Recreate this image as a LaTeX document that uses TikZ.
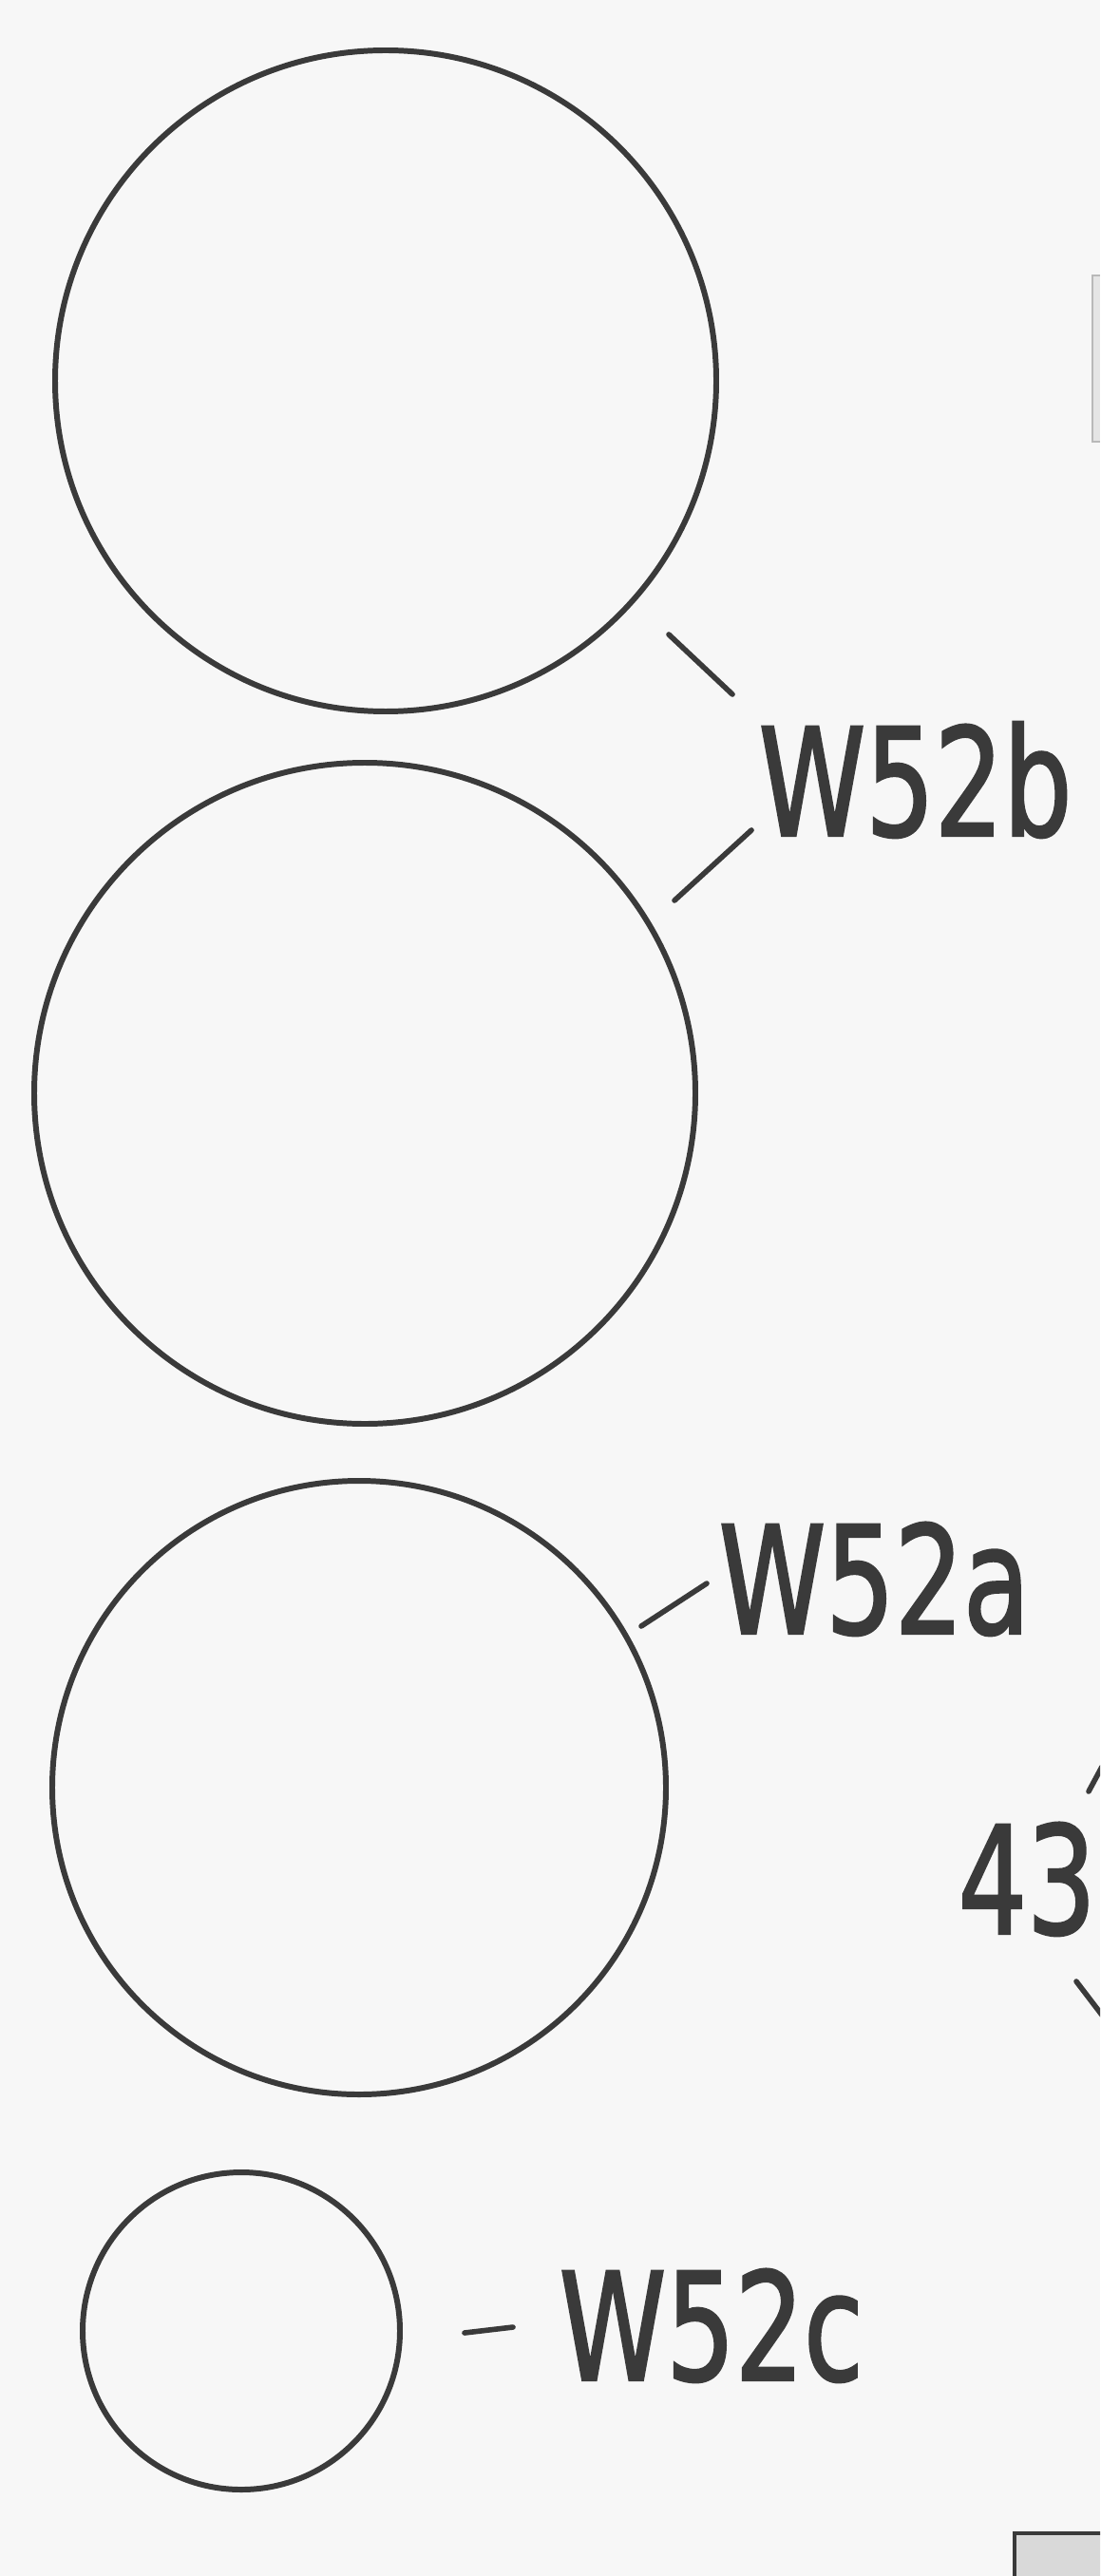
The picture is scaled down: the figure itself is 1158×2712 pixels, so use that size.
\documentclass[tikz,border=0pt]{standalone}
\usepackage{fontspec}
\newfontfamily\tagfont[FakeStretch=0.72, FakeBold=1.5]{DejaVu Sans}
\definecolor{ink}{HTML}{3A3A3A}
\definecolor{paper}{HTML}{F7F7F7}
\tikzset{
  ring/.style={circle, draw=ink, line width=1.7pt, inner sep=0pt},
  tag/.style={font=\tagfont\fontsize{45}{45}\selectfont, text=ink, inner sep=0pt, anchor=base west},
  leader/.style={draw=ink, line width=1.6pt, line cap=round},
}
\begin{document}
\begin{tikzpicture}[x=0.1mm, y=-0.1mm]
    \fill[paper] (0,0) rectangle (1158,2712);
    \useasboundingbox (0,0) rectangle (1158,2712);
    \clip (0,0) rectangle (1158,2712);
    % Rings, top to bottom
    \foreach \nm/\x/\y/\d in {ringBa/406/401/69.6, ringBb/384/1151/69.6, ringA/378/1882/64.6, ringC/254/2454/33.4} {
      \node[ring, minimum size=\d mm] (\nm) at (\x,\y) {};
    }
    % Labels
    \node[tag] (tagB) at (798,880) {W52b};
    \node[tag] (tagA) at (756,1720) {W52a};
    \node[tag] (tagC) at (588,2506) {W52c};
    \node[tag] (tagP) at (1008,2036) {43};
    % Leader ends
    \coordinate (lb1) at (704,668);  \coordinate (lb2) at (771,731);
    \coordinate (lb3) at (710,948);  \coordinate (lb4) at (791,874);
    \coordinate (la1) at (675,1712); \coordinate (la2) at (744,1667);
    \coordinate (lc1) at (489,2456); \coordinate (lc2) at (540,2450);
    \coordinate (lp1) at (1146,1886); \coordinate (lp2) at (1160,1860);
    \coordinate (lp3) at (1133,2086); \coordinate (lp4) at (1162,2124);
    \draw[leader] (lb1) -- (lb2);
    \draw[leader] (lb3) -- (lb4);
    \draw[leader] (la1) -- (la2);
    \draw[leader] (lc1) -- (lc2);
    \draw[leader] (lp1) -- (lp2);
    \draw[leader] (lp3) -- (lp4);
    % Cut-off parts at the right edge
    \fill[gray!20] (1150,290) rectangle (1158,465);
    \draw[gray!55, line width=0.6pt] (1158,290) -- (1150,290) -- (1150,465) -- (1158,465);
    \filldraw[fill=gray!30, draw=ink, line width=1.2pt] (1068,2667) rectangle (1180,2730);
\end{tikzpicture}
\end{document}
